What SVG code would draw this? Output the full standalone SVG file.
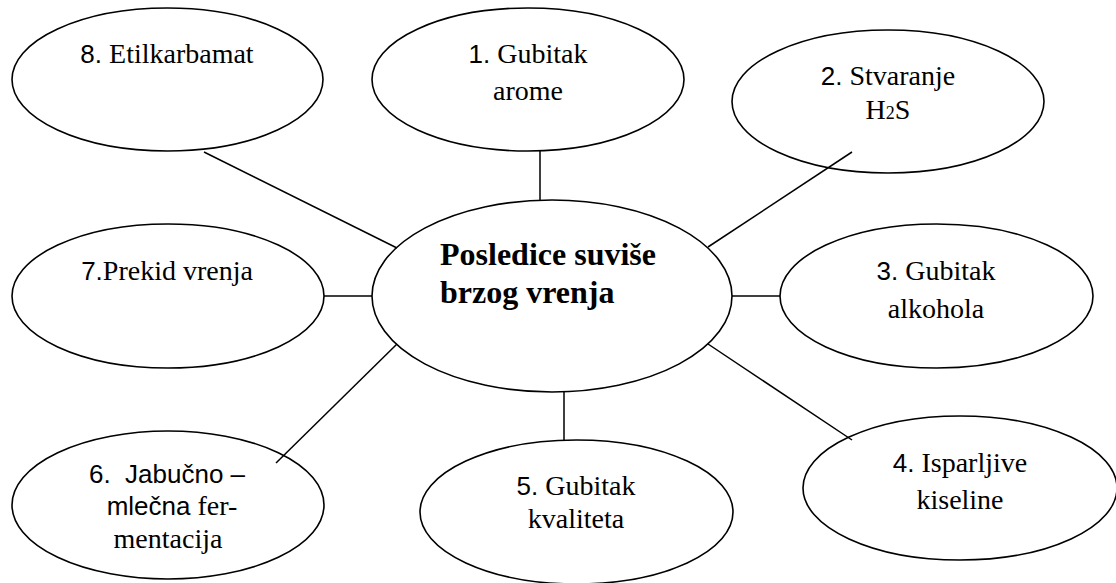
<svg xmlns="http://www.w3.org/2000/svg" width="1116" height="583" viewBox="0 0 1116 583">
<style>
.n{fill:#fff;stroke:#000;stroke-width:1.6}
.c line{stroke:#000;stroke-width:1.5}
text{font-family:"Liberation Serif","Times New Roman",serif;font-size:28px;fill:#000;text-anchor:middle}
.s{font-family:"Liberation Sans",Arial,sans-serif;font-size:26px}
.b{font-weight:bold;font-size:32px;text-anchor:start}
</style>
<rect width="1116" height="583" fill="#fff"/>
<g id="center">
<ellipse class="n" cx="552" cy="296" rx="180" ry="96"/>
<text class="b" x="440" y="265">Posledice suviše</text>
<text class="b" x="440" y="303">brzog vrenja</text>
</g>
<g id="n1">
<ellipse class="n" cx="528" cy="79.5" rx="156" ry="71.5"/>
<text x="528" y="63"><tspan class="s">1.</tspan> Gubitak</text>
<text x="528" y="100">arome</text>
</g>
<g id="n2">
<ellipse class="n" cx="888" cy="101.5" rx="156" ry="71.5"/>
<text x="888" y="85"><tspan class="s">2.</tspan> Stvaranje</text>
<text x="888" y="119">H<tspan font-size="18">2</tspan>S</text>
</g>
<g id="n3">
<ellipse class="n" cx="936.5" cy="296" rx="156.5" ry="72"/>
<text x="936" y="280"><tspan class="s">3.</tspan> Gubitak</text>
<text x="936" y="318">alkohola</text>
</g>
<g id="n4">
<ellipse class="n" cx="960" cy="488" rx="157" ry="72"/>
<text x="960" y="472"><tspan class="s">4.</tspan> Isparljive</text>
<text x="960" y="509">kiseline</text>
</g>
<g id="n5">
<ellipse class="n" cx="576.5" cy="512" rx="156.5" ry="72"/>
<text x="576" y="495"><tspan class="s">5.</tspan> Gubitak</text>
<text x="576" y="528">kvaliteta</text>
</g>
<g id="n6">
<ellipse class="n" cx="168" cy="505" rx="156" ry="74"/>
<text class="s" x="167" y="483" font-size="25" xml:space="preserve">6.  Jabučno –</text>
<text x="172" y="515"><tspan class="s" font-size="25">mlečna</tspan> fer-</text>
<text x="168" y="548">mentacija</text>
</g>
<g id="n7">
<ellipse class="n" cx="168" cy="296" rx="156" ry="72"/>
<text x="167" y="280"><tspan class="s">7.</tspan>Prekid vrenja</text>
</g>
<g id="n8">
<ellipse class="n" cx="167.5" cy="79.5" rx="155.5" ry="71.5"/>
<text x="167" y="63"><tspan class="s">8.</tspan> Etilkarbamat</text>
</g>
<g class="c" id="connectors">
<line x1="540" y1="151" x2="540" y2="200"/>
<line x1="852" y1="152" x2="708" y2="247"/>
<line x1="732" y1="296" x2="780" y2="296"/>
<line x1="708" y1="344" x2="852" y2="440"/>
<line x1="564" y1="392" x2="564" y2="440"/>
<line x1="397" y1="344" x2="276" y2="463"/>
<line x1="324" y1="296" x2="372" y2="296"/>
<line x1="204" y1="152" x2="397" y2="248"/>
</g>
</svg>
